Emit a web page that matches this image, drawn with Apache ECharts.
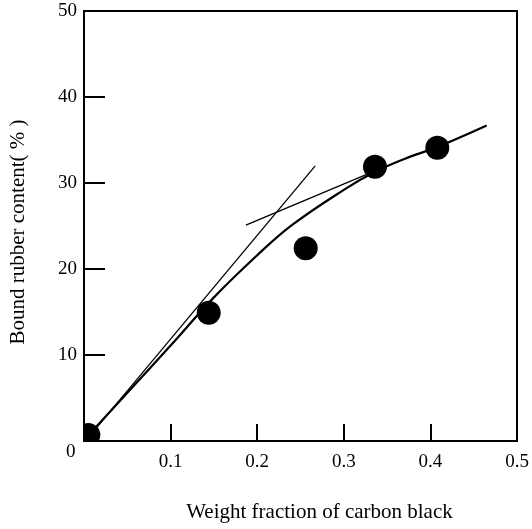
<!DOCTYPE html>
<html>
<head>
<meta charset="utf-8">
<script src="https://cdn.jsdelivr.net/npm/echarts@6/dist/echarts.min.js"></script>
<style>
  html, body { margin: 0; padding: 0; background: #fff; }
  #chart { width: 532px; height: 529px; }
</style>
</head>
<body>
<div id="chart"></div>
<script>
// measured points (weight fraction, bound rubber %)
var pointX = [0.005, 0.144, 0.256, 0.336, 0.408]
var pointY = [0.7, 14.9, 22.4, 31.9, 34.1]

// fitted curve
var curveX = [0.008, 0.05, 0.1, 0.15, 0.2, 0.24, 0.3, 0.336, 0.37, 0.408, 0.465]
var curveY = [1.0, 5.6, 11.1, 16.7, 21.6, 25.1, 29.2, 31.3, 32.8, 34.2, 36.7]

// two thin tangent lines
var tangentAX = [0.01, 0.267]
var tangentAY = [1.0, 32.0]
var tangentBX = [0.187, 0.336]
var tangentBY = [25.1, 31.4]

var xTicks = [0, 0.1, 0.2, 0.3, 0.4, 0.5]
var yTicks = [0, 10, 20, 30, 40, 50]

function zip(xs, ys) {
  return xs.map(function (x, i) { return [x, ys[i]] })
}

var font = 'Liberation Serif'
var chart = echarts.init(document.getElementById('chart'))

chart.setOption({
  animation: false,
  backgroundColor: '#fff',
  grid: {
    left: 84,
    right: 15,
    top: 11,
    bottom: 88,
    show: true,
    borderColor: '#000',
    borderWidth: 2
  },
  xAxis: {
    type: 'value',
    min: xTicks[0],
    max: xTicks[xTicks.length - 1],
    interval: 0.1,
    name: 'Weight fraction of carbon black',
    nameLocation: 'middle',
    nameGap: 61,
    nameTextStyle: { fontFamily: font, fontSize: 21, color: '#000', padding: [0, 0, 0, 38] },
    splitLine: { show: false },
    axisLine: { lineStyle: { color: '#000', width: 2 } },
    axisTick: { inside: true, length: 17, lineStyle: { color: '#000', width: 2 } },
    axisLabel: {
      fontFamily: font, fontSize: 19, color: '#000', margin: 12,
      formatter: function (v) { return v === 0 ? '' : v.toFixed(1) }
    }
  },
  yAxis: {
    type: 'value',
    min: yTicks[0],
    max: yTicks[yTicks.length - 1],
    interval: 10,
    name: 'Bound rubber content( % )',
    nameLocation: 'middle',
    nameGap: 55,
    nameTextStyle: { fontFamily: font, fontSize: 21, color: '#000', padding: [0, 12, 0, 0] },
    splitLine: { show: false },
    axisLine: { lineStyle: { color: '#000', width: 2 } },
    axisTick: { inside: true, length: 21, lineStyle: { color: '#000', width: 2 } },
    axisLabel: {
      fontFamily: font, fontSize: 19, color: '#000', margin: 7,
      formatter: function (v) { return v === 0 ? '' : String(v) }
    }
  },
  graphic: [{
    type: 'text',
    left: 66,
    top: 443,
    style: { text: '0', font: '19px "Liberation Serif"', fill: '#000' }
  }],
  series: [
    {
      type: 'line',
      data: zip(curveX, curveY),
      smooth: 0.4,
      showSymbol: false,
      lineStyle: { color: '#000', width: 2.2 }
    },
    {
      type: 'line',
      data: zip(tangentAX, tangentAY),
      showSymbol: false,
      lineStyle: { color: '#000', width: 1.3 }
    },
    {
      type: 'line',
      data: zip(tangentBX, tangentBY),
      showSymbol: false,
      lineStyle: { color: '#000', width: 1.3 }
    },
    {
      // drawn as custom circles so the one at the origin is cut by the axes
      type: 'custom',
      clip: true,
      data: zip(pointX, pointY),
      z: 5,
      renderItem: function (params, api) {
        var p = api.coord([api.value(0), api.value(1)])
        return {
          type: 'circle',
          shape: { cx: p[0], cy: p[1], r: 12 },
          style: { fill: '#000' }
        }
      }
    }
  ]
})
</script>
</body>
</html>
